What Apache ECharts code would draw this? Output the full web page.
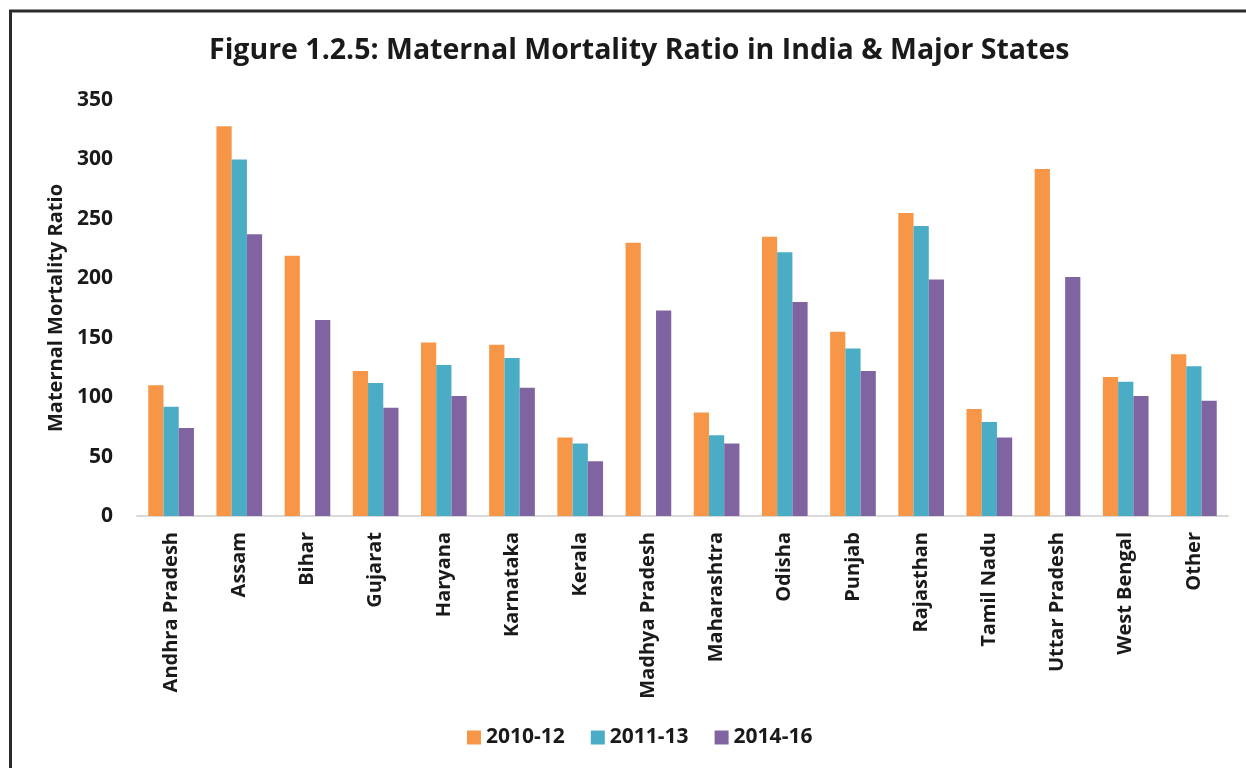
<!DOCTYPE html>
<html>
<head>
<meta charset="utf-8">
<script src="https://cdn.jsdelivr.net/npm/echarts@6/dist/echarts.min.js"></script>
<style>
  html, body { margin: 0; padding: 0; background: #fff; }
  #chart { width: 1246px; height: 768px; }
</style>
</head>
<body>
<div id="chart"></div>
<script>
// states along the x axis
var states = ['Andhra Pradesh', 'Assam', 'Bihar', 'Gujarat', 'Haryana', 'Karnataka', 'Kerala',
    'Madhya Pradesh', 'Maharashtra', 'Odisha', 'Punjab', 'Rajasthan', 'Tamil Nadu',
    'Uttar Pradesh', 'West Bengal', 'Other'];
var periods = ['2010-12', '2011-13', '2014-16'];

// MMR values (null = no bar)
var mmr2010 = [110, 328, 219, 122, 146, 144, 66, 230, 87, 235, 155, 255, 90, 292, 117, 136];
var mmr2011 = [92, 300, null, 112, 127, 133, 61, null, 68, 222, 141, 244, 79, null, 113, 126];
var mmr2014 = [74, 237, 165, 91, 101, 108, 46, 173, 61, 180, 122, 199, 66, 201, 101, 97];

var colors = ['#F79646', '#4BACC6', '#8064A2'];
var font = '"Open Sans", sans-serif';

var chart = echarts.init(document.getElementById('chart'));

var seriesData = [mmr2010, mmr2011, mmr2014];
var series = periods.map(function (p, i) {
    return {
        name: p,
        type: 'bar',
        data: seriesData[i],
        barGap: '0%',
        barCategoryGap: '33%',
        itemStyle: { color: colors[i] }
    };
});

chart.setOption({
    animation: false,
    color: colors,
    title: {
        text: 'Figure 1.2.5: Maternal Mortality Ratio in India & Major States',
        left: 204,
        top: 31,
        textStyle: { fontFamily: font, fontWeight: 'bold', fontSize: 28.5, color: '#1a1a1a' }
    },
    // frame round the figure (only top and left edges visible in the crop)
    graphic: [{
        type: 'rect',
        shape: { x: 10.5, y: 11, width: 1400, height: 1000 },
        style: { fill: 'none', stroke: '#2b2b2b', lineWidth: 3 },
        silent: true
    }],
    legend: {
        data: periods,
        bottom: 15,
        left: 462,
        itemWidth: 14,
        itemHeight: 14,
        itemGap: 26,
        icon: 'rect',
        textStyle: { fontFamily: font, fontWeight: 'bold', fontSize: 21, color: '#1a1a1a' }
    },
    grid: {
        left: 137,
        right: 18,
        top: 100,
        bottom: 252,
        containLabel: false
    },
    xAxis: {
        type: 'category',
        data: states,
        axisTick: { show: false },
        axisLine: { lineStyle: { color: '#d9d9d9', width: 2 } },
        axisLabel: {
            rotate: 90,
            interval: 0,
            margin: 16,
            fontFamily: font,
            fontWeight: 'bold',
            fontSize: 20,
            color: '#1a1a1a'
        }
    },
    yAxis: {
        type: 'value',
        min: 0,
        max: 350,
        interval: 50,
        name: 'Maternal Mortality Ratio',
        nameLocation: 'middle',
        nameGap: 70,
        nameTextStyle: { fontFamily: font, fontWeight: 'bold', fontSize: 20, color: '#1a1a1a' },
        splitLine: { show: false },
        axisLine: { show: false },
        axisTick: { show: false },
        axisLabel: {
            margin: 24,
            fontFamily: font,
            fontWeight: 'bold',
            fontSize: 21,
            color: '#1a1a1a'
        }
    },
    series: series
});
</script>
</body>
</html>
